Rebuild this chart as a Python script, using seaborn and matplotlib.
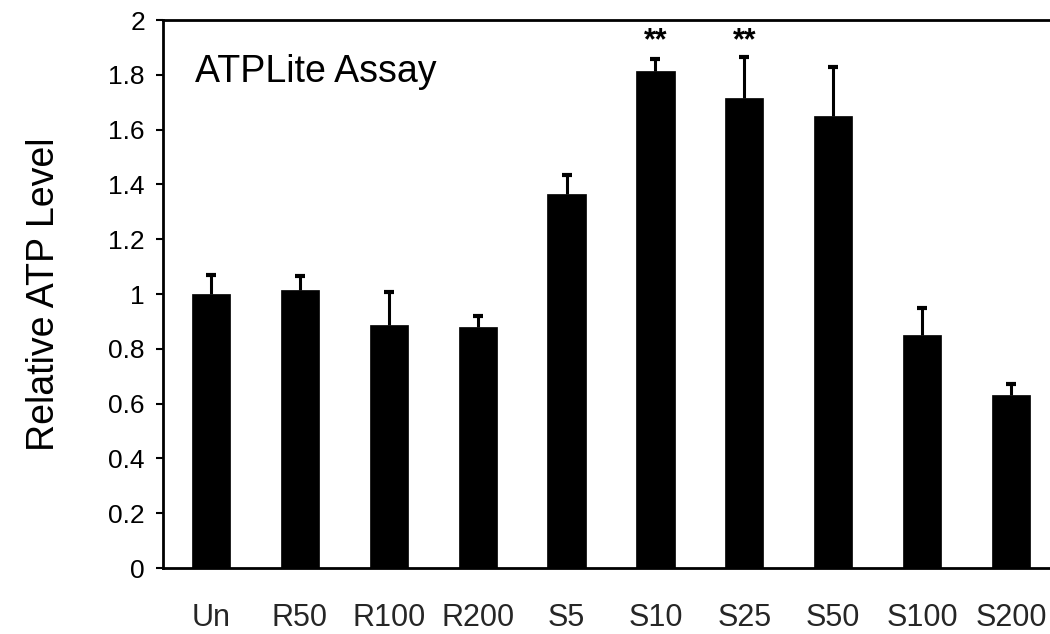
import matplotlib
matplotlib.use("Agg")
import matplotlib.pyplot as plt
import numpy as np
import pandas as pd
import seaborn as sns

# Treatment groups and relative ATP measurements
groups = ["Un", "R50", "R100", "R200", "S5", "S10", "S25", "S50", "S100", "S200"]
atp_mean = [1.00, 1.015, 0.887, 0.88, 1.365, 1.814, 1.715, 1.65, 0.85, 0.632]
atp_err = [0.07, 0.05, 0.12, 0.04, 0.07, 0.045, 0.15, 0.18, 0.10, 0.04]
significant = ["S10", "S25"]
y_ticks = [0, 0.2, 0.4, 0.6, 0.8, 1, 1.2, 1.4, 1.6, 1.8, 2]

df = pd.DataFrame({"group": groups, "atp": atp_mean, "err": atp_err})

sns.set_style("white")
plt.rcParams["font.family"] = ["Liberation Sans", "DejaVu Sans"]

fig = plt.figure(figsize=(10.5, 6.34), dpi=100)
ax = fig.add_axes([163 / 1050, 66 / 634, (1059 - 163) / 1050, 548 / 634])

sns.barplot(data=df, x="group", y="atp", order=groups, color="black",
            width=0.43, errorbar=None, saturation=1, ax=ax)
for p in ax.patches:
    p.set_edgecolor("black")
    p.set_linewidth(0.5)
    p.set_zorder(3)

# upper-only error bars, tucked behind the bars
xpos = np.arange(len(groups))
_, caps, _ = ax.errorbar(xpos, df["atp"], yerr=[np.zeros(len(groups)), df["err"]],
                         fmt="none", ecolor="black", elinewidth=2.2, capsize=3.5,
                         capthick=3, zorder=1)
caps[0].set_visible(False)  # no cap at the bar top

# significance marks
for g in significant:
    i = groups.index(g)
    ax.text(i, 1.893, "**", ha="center", va="baseline", fontsize=22,
            fontweight="bold", color="black")

ax.set_xlim(-0.54, len(groups) - 0.46)
ax.set_ylim(0, 2)
ax.set_yticks(y_ticks)
ax.set_yticklabels([f"{t:g}" for t in y_ticks])
ax.tick_params(axis="y", direction="out", length=5, width=1.5, pad=8,
               left=True, colors="black", labelsize=19)
ax.tick_params(axis="x", length=0, pad=25, labelsize=22)
ax.set_xlabel("")
ax.set_ylabel("Relative ATP Level", fontsize=27, color="black")
ax.yaxis.set_label_coords(-0.113, 0.5)

for side in ["left", "bottom", "top"]:
    ax.spines[side].set_visible(True)
    ax.spines[side].set_color("black")
    ax.spines[side].set_linewidth(2)
ax.spines["right"].set_visible(False)

ax.text(0.036, 0.905, "ATPLite Assay", transform=ax.transAxes,
        fontsize=27, ha="left", va="center", color="black")

fig.savefig("out.png", dpi=100)
